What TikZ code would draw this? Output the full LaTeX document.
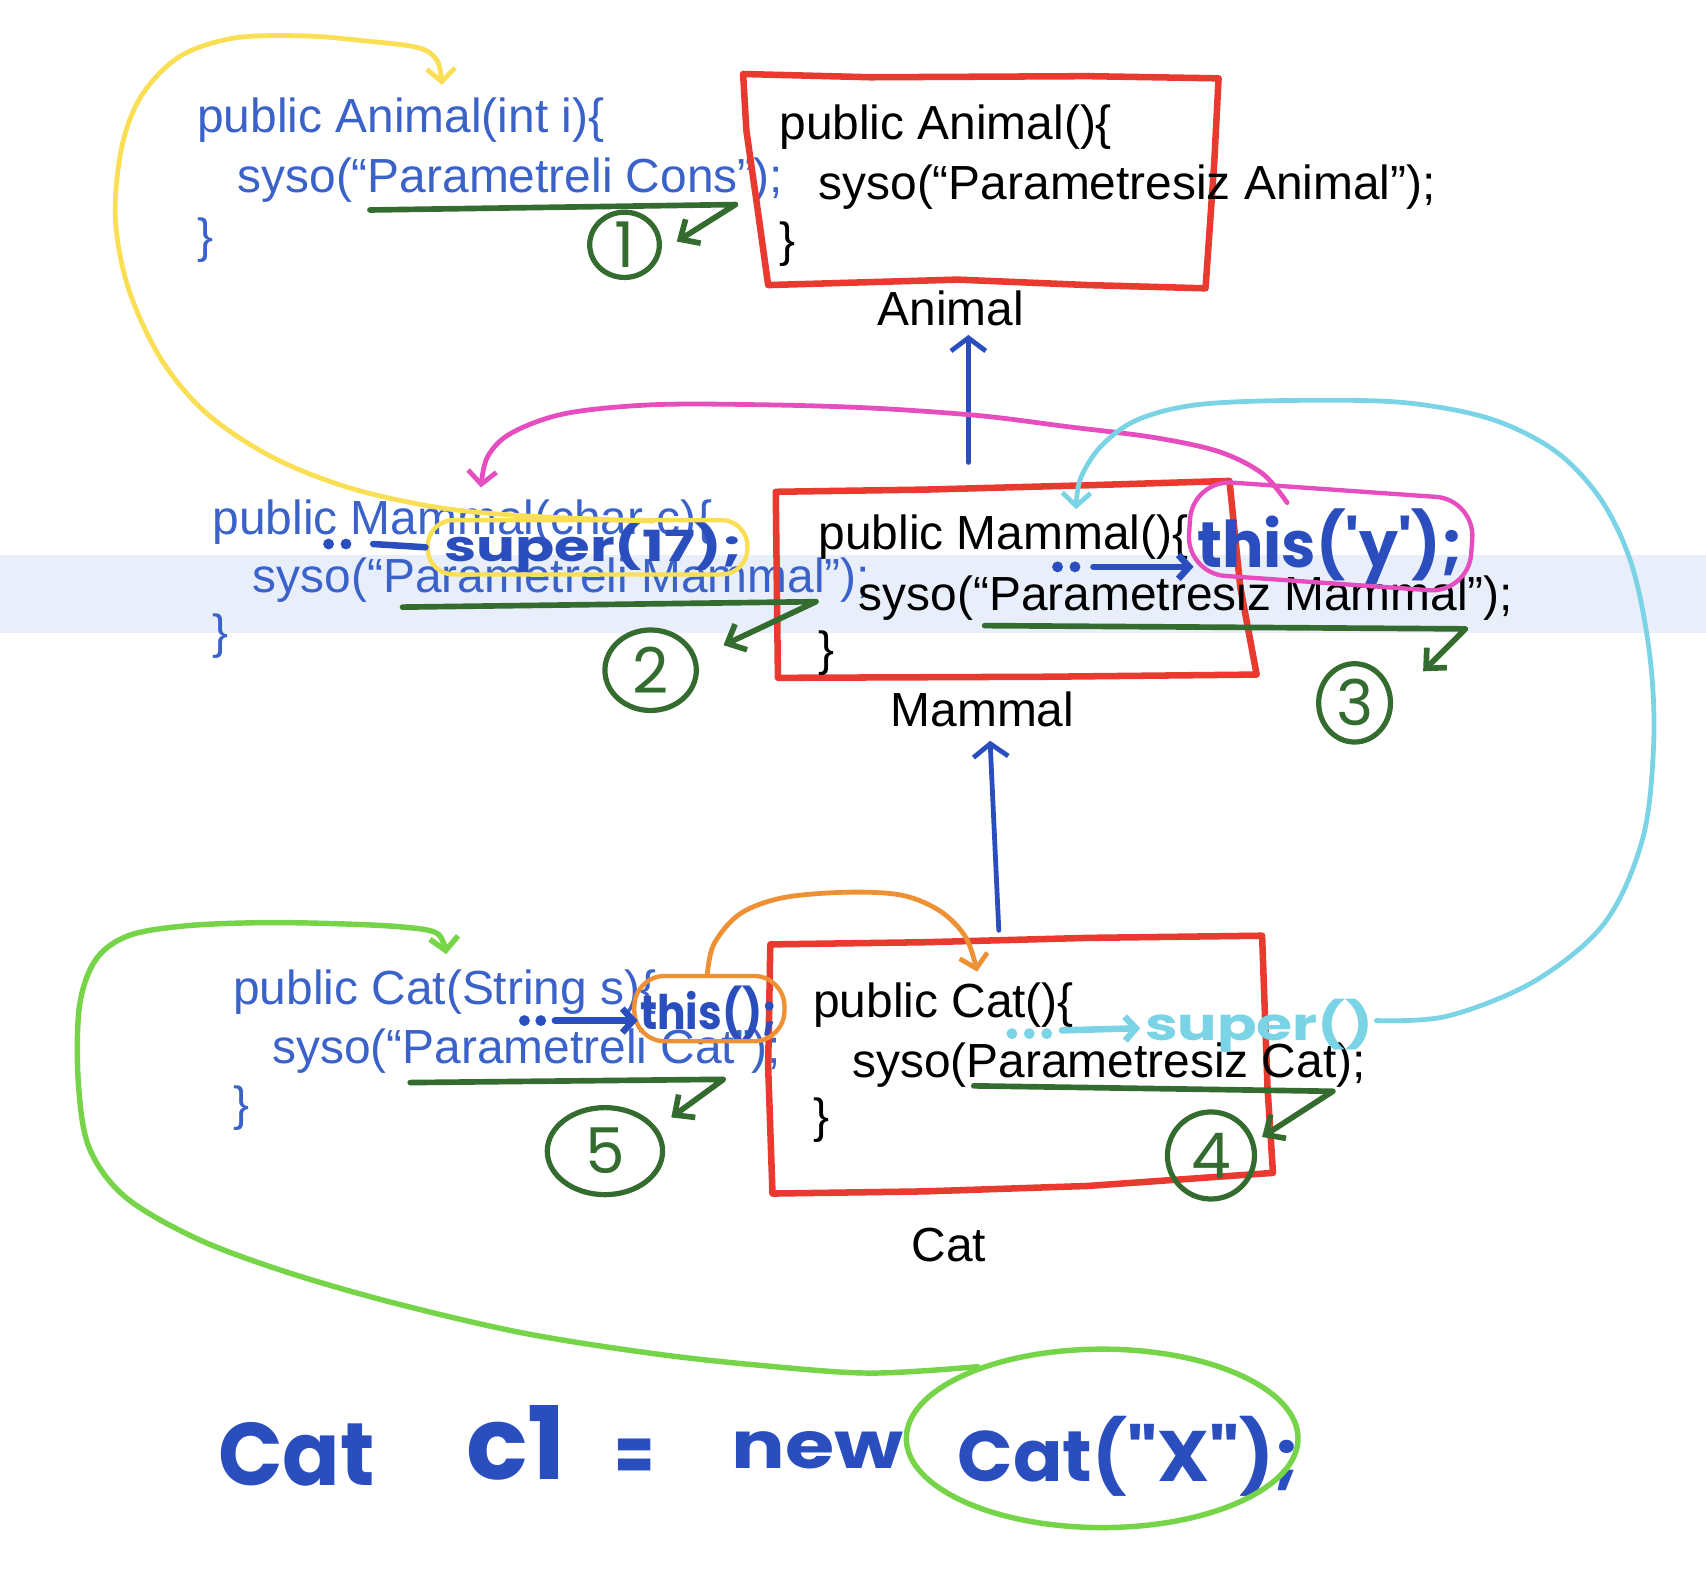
\documentclass[tikz,border=0pt]{standalone}
\usepackage{fontspec}
\usepackage{graphicx}
\setmainfont{Liberation Sans}
\newfontfamily\hand{Poppins}
\usetikzlibrary{arrows.meta,shapes.geometric}
\definecolor{codeblue}{RGB}{58,98,200}
\definecolor{inkblue}{RGB}{42,78,190}
\definecolor{boxred}{RGB}{232,58,46}
\definecolor{dgreen}{RGB}{52,108,48}
\definecolor{lgreen}{RGB}{118,212,72}
\definecolor{yel}{RGB}{250,222,84}
\definecolor{mag}{RGB}{230,78,192}
\definecolor{cya}{RGB}{122,212,230}
\definecolor{ora}{RGB}{238,144,52}
\definecolor{band}{RGB}{232,239,251}
\newcommand\hw[2]{\resizebox{#1}{!}{\hand\bfseries #2}}
\newcommand\hwh[3]{\resizebox{#1}{#2}{\hand\bfseries #3}}
\tikzset{
  main/.style={font=\fontsize{22}{26}\selectfont, anchor=base west, inner sep=0pt, text=black},
  code/.style={main, text=codeblue},
  lbl/.style={font=\fontsize{22}{26}\selectfont, anchor=base, inner sep=0pt},
  handtxt/.style={anchor=base west, inner sep=0pt},
  redbox/.style={draw=boxred, line width=3pt, line join=round, line cap=round},
  gline/.style={draw=dgreen, line width=2.6pt, line cap=round, line join=round, -{Straight Barb[length=7pt,width=13pt]}},
  num/.style={ellipse, draw=dgreen, line width=2.4pt, inner sep=0pt, text=dgreen, font=\hand\fontsize{29}{30}\selectfont},
  bluearr/.style={draw=inkblue, line width=2.2pt, line cap=round, -{Straight Barb[length=6pt,width=16pt]}},
  dotarr/.style={line width=3pt, line cap=round, -{Straight Barb[length=5pt,width=11pt]}},
  freeline/.style={line width=2.2pt, line cap=round, line join=round, -{Straight Barb[length=6pt,width=13pt]}},
}
\begin{document}
\begin{tikzpicture}[x=0.5pt,y=-0.5pt]
\useasboundingbox (0,0) rectangle (1568,1463);
\fill[band] (0,510) rectangle (1568,582);

% ---------- Animal ----------
\node[code] (pa1) at (181,122) {public Animal(int i)\{};
\node[code] (pa2) at (218,177) {syso(“Parametreli Cons”);};
\node[code] (pa3) at (181,232) {\}};
\draw[redbox] (683,68) -- (800,71) -- (1000,70) -- (1120,72) -- (1116,150) -- (1108,265)
  -- (1000,262) -- (880,257) -- (706,262) -- (696,190) -- (686,120) -- cycle;
\node[main] (a1) at (716,128) {public Animal()\{};
\node[main] (a2) at (752,183) {syso(“Parametresiz Animal”);};
\node[main] (a3) at (716,236) {\}};
\node[lbl] (alab) at (874,299) {Animal};

% ---------- Mammal ----------
\node[code] (pm1) at (195,491) {public Mammal(char c)\{};
\node[code] (pm2) at (232,545) {syso(“Parametreli Mammal”);};
\node[code] (pm3) at (195,596) {\}};
\draw[redbox] (713,452) -- (850,450) -- (1000,446) -- (1130,442) -- (1140,540) -- (1155,620)
  -- (960,622) -- (715,623) -- (714,540) -- cycle;
\node[main] (m1) at (752,505) {public Mammal()\{};
\node[main] (m2) at (789,561) {syso(“Parametresiz Mammal”);};
\node[main] (m3) at (752,612) {\}};
\node[lbl] (mlab) at (903,668) {Mammal};

% ---------- Cat ----------
\node[code] (pc1) at (214,923) {public Cat(String s)\{};
\node[code] (pc2) at (250,977) {syso(“Parametreli Cat”);};
\node[code] (pc3) at (214,1030) {\}};
\draw[redbox] (708,868) -- (850,866) -- (1000,862) -- (1160,860) -- (1165,1000) -- (1170,1078)
  -- (1000,1090) -- (850,1095) -- (710,1097) -- (706,980) -- cycle;
\node[main] (c1) at (747,935) {public Cat()\{};
\node[main] (c2) at (783,990) {syso(Parametresiz Cat);};
\node[main] (c3) at (747,1041) {\}};
\node[lbl] (clab) at (872,1159) {Cat};

% ---------- inheritance arrows ----------
\coordinate (mtop) at (890,425);
\coordinate (ctop) at (918,855);
\coordinate (ctipx) at (910,0);
\draw[bluearr] (mtop) -- ([yshift=-4pt]mtop |- alab.south);
\draw[bluearr] (ctop) -- ([yshift=-6pt]ctipx |- mlab.south);

% ---------- green underlines + numbers ----------
\coordinate (u1a) at (340,193); \coordinate (u1b) at (676,188); \coordinate (u1c) at (622,222);
\coordinate (u2a) at (370,558); \coordinate (u2b) at (750,553); \coordinate (u2c) at (665,593);
\coordinate (u3a) at (905,575); \coordinate (u3b) at (1347,578); \coordinate (u3c) at (1308,617);
\coordinate (u4a) at (895,998); \coordinate (u4b) at (1225,1003); \coordinate (u4c) at (1160,1045);
\coordinate (u5a) at (377,995); \coordinate (u5b) at (665,992); \coordinate (u5c) at (617,1027);
\draw[gline] (u1a) -- (u1b) -- (u1c);
\draw[gline] (u2a) -- (u2b) -- (u2c);
\draw[gline] (u3a) -- (u3b) -- (u3c);
\draw[gline] (u4a) -- (u4b) -- (u4c);
\draw[gline] (u5a) -- (u5b) -- (u5c);
\node[num, minimum width=32pt, minimum height=30pt] (n1) at (574,225) {1};
\node[num, minimum width=42pt, minimum height=37pt] (n2) at (598,616) {2};
\node[num, minimum width=33pt, minimum height=36pt] (n3) at (1245,646) {3};
\node[num, minimum width=40pt, minimum height=40pt] (n4) at (1113,1062) {4};
\node[num, minimum width=53pt, minimum height=40pt] (n5) at (556,1058) {5};

% ---------- handwritten calls ----------
\node[handtxt, text=inkblue] (sup17) at (408,516) {\hwh{137pt}{18pt}{super(17);}};
\node[draw=yel, line width=2pt, rounded corners=12pt, minimum width=147pt, minimum height=25pt] (supframe) at (540,503) {};
\fill[inkblue] (302,500) circle[radius=5] (318,500) circle[radius=5];
\draw[inkblue, line width=3pt, line cap=round] (343,500) -- (supframe.west);

\node[handtxt, text=inkblue] (thy) at (1100,522) {\hwh{122pt}{27pt}{this('y');}};
\node[draw=mag, line width=2pt, rounded corners=18pt, minimum width=130pt, minimum height=43pt, rotate=-4] (thyframe) at (1223,493) {};
\fill[inkblue] (972,521) circle[radius=5] (988,521) circle[radius=5];
\coordinate (thyd) at (1005,521);
\draw[inkblue, dotarr] (thyd) -- (1097,521);

\node[handtxt, text=inkblue] (th) at (588,946) {\hwh{63pt}{20pt}{this();}};
\node[draw=ora, line width=2pt, rounded corners=14pt, minimum width=69pt, minimum height=30pt] (thframe) at (652,927) {};
\fill[inkblue] (482,938) circle[radius=5] (497,938) circle[radius=5];
\coordinate (thd) at (510,938);
\draw[inkblue, dotarr] (thd) -- (586,938);

\node[handtxt, text=cya] (sup) at (1052,956) {\hwh{105pt}{19pt}{super()}};
\fill[cya] (930,950) circle[radius=5] (946,950) circle[radius=5] (962,950) circle[radius=5];
\coordinate (supd) at (976,947);
\draw[cya, dotarr] (supd) -- (1048,945);

% ---------- flow curves ----------
\coordinate (ys) at (600,479);
\coordinate (ye) at (406,78);
\draw[yel, freeline] plot[smooth, tension=0.55] coordinates {(ys) (480,474) (400,466) (320,448) (250,420) (190,380) (148,330) (118,265) (106,200) (112,135) (130,88) (165,52) (215,35) (280,33) (340,38) (385,44) (402,56) (ye)};

\coordinate (ms) at (1183,462);
\coordinate (me) at (442,448);
\draw[mag, freeline] plot[smooth, tension=0.55] coordinates {(ms) (1160,435) (1120,415) (1060,402) (980,392) (900,382) (800,375) (700,372) (600,372) (520,380) (470,398) (448,420) (me)};

\coordinate (cs) at (1265,938);
\coordinate (ce) at (989,468);
\draw[cya, freeline] plot[smooth, tension=0.55] coordinates {(cs) (1330,934) (1410,902) (1475,848) (1510,770) (1520,680) (1516,600) (1500,520) (1472,460) (1430,415) (1370,385) (1290,370) (1190,368) (1100,372) (1045,386) (1012,410) (993,440) (ce)};

\coordinate (os) at (650,897);
\coordinate (oe) at (898,893);
\draw[ora, freeline] plot[smooth, tension=0.55] coordinates {(os) (656,868) (680,840) (720,825) (780,820) (830,823) (865,838) (888,862) (oe)};

% ---------- bottom statement ----------
\node[handtxt, text=inkblue] (w1) at (200,1365) {\hwh{72pt}{29pt}{Cat}};
\node[handtxt, text=inkblue] (w2) at (428,1360) {\hwh{46pt}{34pt}{c1}};
\node[anchor=north, inner sep=0pt, text=inkblue] (w3) at (583,1322) {\hwh{18.5pt}{20pt}{=}};
\node[handtxt, text=inkblue] (w4) at (672,1350) {\hwh{79pt}{17pt}{new}};
\node[handtxt, text=inkblue] (w5) at (880,1362) {\hwh{157pt}{30pt}{Cat("X");}};
\node[ellipse, draw=lgreen, line width=2.5pt, minimum width=180pt, minimum height=82pt, inner sep=0pt] (catell) at (1013,1322) {};
\coordinate (gs) at (catell.150);
\coordinate (ge) at (410,877);
\draw[lgreen, freeline, line width=2.5pt] plot[smooth, tension=0.55] coordinates {(gs) (800,1262) (700,1255) (600,1244) (480,1225) (360,1197) (260,1168) (180,1138) (115,1100) (82,1055) (72,995) (73,925) (88,882) (118,860) (170,851) (240,848) (310,849) (370,852) (402,858) (ge)};
\end{tikzpicture}
\end{document}
